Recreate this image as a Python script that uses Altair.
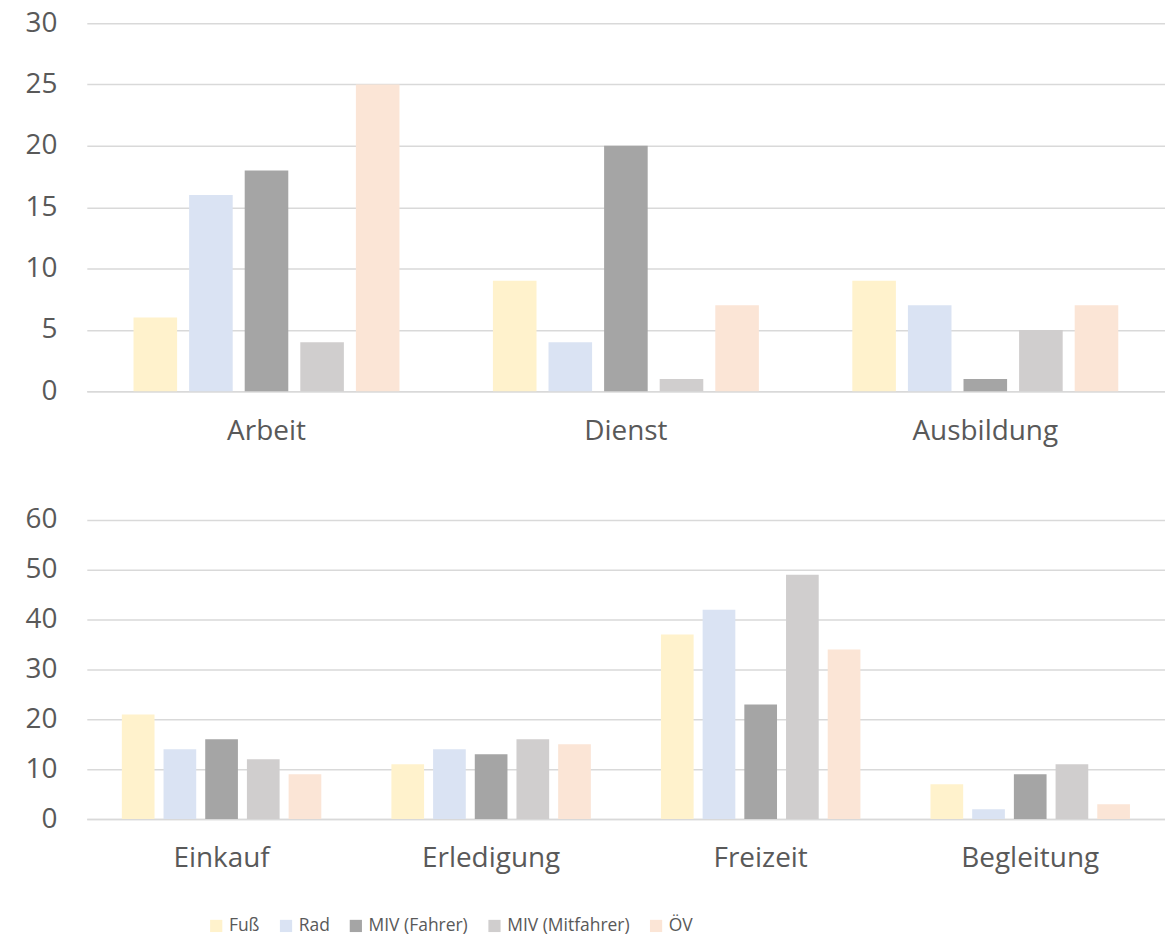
import altair as alt
import pandas as pd

modes = ["Fuß", "Rad", "MIV (Fahrer)", "MIV (Mitfahrer)", "ÖV"]
colors = ["#FFF2CC", "#DAE3F3", "#A5A5A5", "#D0CECE", "#FBE5D6"]

top_cats = ["Arbeit", "Dienst", "Ausbildung"]
top_fuss = [6, 9, 9]
top_rad = [16, 4, 7]
top_miv_fahrer = [18, 20, 1]
top_miv_mitfahrer = [4, 1, 5]
top_oev = [25, 7, 7]

bot_cats = ["Einkauf", "Erledigung", "Freizeit", "Begleitung"]
bot_fuss = [21, 11, 37, 7]
bot_rad = [14, 14, 42, 2]
bot_miv_fahrer = [16, 13, 23, 9]
bot_miv_mitfahrer = [12, 16, 49, 11]
bot_oev = [9, 15, 34, 3]

FONT = "Open Sans"
TXT = "#595959"
GRID = "#D9D9D9"


def table(cats, series):
    rows = []
    for mode, vals in zip(modes, series):
        for c, v in zip(cats, vals):
            rows.append({"cat": c, "mode": mode, "value": v})
    return pd.DataFrame(rows)


def panel(cats, series, ymax, step, height, legend):
    df = table(cats, series)
    return alt.Chart(df).mark_bar().encode(
        x=alt.X("cat:N", sort=cats,
                scale=alt.Scale(paddingInner=0.26, paddingOuter=0.13),
                axis=alt.Axis(title=None, labelAngle=0, ticks=False, domain=True,
                              domainColor=GRID, domainWidth=1.5, labelPadding=26,
                              labelFontSize=28, labelFont=FONT, labelColor=TXT,
                              minExtent=60, maxExtent=60)),
        xOffset=alt.XOffset("mode:N", sort=modes,
                            scale=alt.Scale(paddingInner=0.216, paddingOuter=0)),
        y=alt.Y("value:Q",
                scale=alt.Scale(domain=[0, ymax], nice=False),
                axis=alt.Axis(title=None, values=list(range(0, ymax + 1, step)),
                              grid=True, gridColor=GRID, gridWidth=1.5, domain=False,
                              ticks=False, labelPadding=30, labelFontSize=28,
                              labelFont=FONT, labelColor=TXT,
                              minExtent=74, maxExtent=74)),
        color=alt.Color("mode:N", sort=modes,
                        scale=alt.Scale(domain=modes, range=colors),
                        legend=legend),
    ).properties(width=1081, height=height)


legend = alt.Legend(title=None, orient="none", legendX=121, legendY=398,
                    direction="horizontal", symbolType="square", symbolSize=150,
                    symbolStrokeWidth=0, labelFontSize=17.5, labelFont=FONT,
                    labelColor=TXT, columnPadding=17, labelOffset=4, padding=0)

top = panel(top_cats, [top_fuss, top_rad, top_miv_fahrer, top_miv_mitfahrer, top_oev],
            30, 5, 369, None)
bottom = panel(bot_cats, [bot_fuss, bot_rad, bot_miv_fahrer, bot_miv_mitfahrer, bot_oev],
               60, 10, 300, legend)

chart = alt.vconcat(top, bottom, spacing=55).resolve_scale(
    color="independent", x="independent", xOffset="independent"
).properties(
    padding={"left": 5, "top": 0, "right": 0, "bottom": 5}
).configure_view(stroke=None)

chart.save("out.html", embed_options={"renderer": "svg", "actions": False})
